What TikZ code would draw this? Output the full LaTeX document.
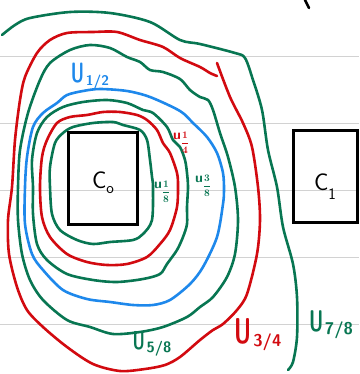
\documentclass[tikz,border=0pt]{standalone}
\usepackage{graphicx}
\usepackage{amsmath}
\definecolor{cgreen}{RGB}{8,118,82}
\definecolor{cred}{RGB}{210,10,16}
\definecolor{cblue}{RGB}{30,136,235}
\newcommand{\ulab}[3]{\scalebox{0.62}[1]{\fontsize{#1}{#1}\selectfont U}\,\raisebox{-3pt}{\fontsize{#2}{#2}\selectfont #3}}
\newcommand{\slab}[2]{{\fontsize{14}{14}\selectfont u}\raisebox{-7pt}{\fontsize{10}{10}\selectfont$\boldsymbol{\dfrac{#1}{#2}}$}}
\begin{document}
\begin{tikzpicture}[x=1pt,y=-1pt,
  curve/.style={line width=2.6pt,line cap=round,line join=round},
  gline/.style={gray!35,line width=1pt},
  boxnode/.style={draw=black,line width=3pt,inner sep=0pt},
  lab/.style={inner sep=0pt,font=\sffamily\bfseries}]
\useasboundingbox (0,0) rectangle (359,374);
% ruled lines
\foreach \yy in {57,124,190,257,324} \draw[gline] (0,\yy) -- (359,\yy);
% U 7/8 (outer green, open)
\draw[curve,cgreen] plot[smooth] coordinates {(2,35) (15,25) (30,18) (70,12) (110,13) (150,22) (180,40) (200,44) (235,53) (245,58) (253,80) (262,110) (268,150) (277,187) (283,227) (293,264) (297,297) (297,337) (293,362) (288,370)};
% U 3/4 (outer red, open)
\draw[curve,cred] plot[smooth] coordinates {(217,76) (210,73) (200,67) (180,58) (163,47) (140,40) (117,32) (93,32) (67,33) (50,40) (37,53) (25,77) (20,100) (15,140) (12,187) (8,220) (9,254) (17,287) (27,310) (43,327) (67,347) (93,364) (120,371) (145,369) (165,365) (180,357) (200,340) (213,330) (223,324) (237,310) (247,294) (257,254) (260,220) (258,187) (252,147) (243,123) (230,97) (217,63)};
% U 5/8
\draw[curve,cgreen] plot[smooth cycle] coordinates {(18,187) (20,150) (28,113) (40,80) (50,63) (70,50) (90,45) (110,48) (127,57) (140,62) (150,70) (163,72) (180,79) (190,90) (200,97) (208,100) (213,110) (220,133) (228,157) (235,187) (238,220) (235,254) (227,277) (213,297) (200,307) (187,317) (163,327) (140,332) (113,334) (90,327) (67,320) (43,300) (30,280) (22,254) (18,220)};
% U 1/2
\draw[curve,cblue] plot[smooth cycle] coordinates {(25,187) (27,157) (33,127) (43,113) (57,103) (67,95) (83,91) (100,89) (127,91) (150,97) (180,111) (193,123) (207,137) (217,153) (223,173) (224,190) (223,204) (217,237) (203,267) (190,284) (170,300) (153,305) (133,305) (110,302) (87,299) (63,290) (43,270) (32,254) (25,224)};
% U 3/8
\draw[curve,cgreen] plot[smooth cycle] coordinates {(33,187) (32,160) (37,133) (47,117) (63,107) (83,102) (107,100) (127,103) (143,110) (153,113) (167,127) (173,140) (180,147) (185,160) (187,173) (188,187) (187,207) (187,224) (183,237) (177,250) (167,264) (160,274) (143,279) (117,282) (93,280) (67,274) (47,260) (37,244) (33,214)};
% U 1/4
\draw[curve,cred] plot[smooth cycle] coordinates {(40,187) (42,157) (47,140) (57,123) (70,117) (87,115) (103,112) (120,112) (137,115) (147,120) (157,130) (163,143) (170,153) (177,173) (178,187) (177,207) (170,230) (160,244) (147,257) (127,264) (107,265) (87,262) (67,254) (50,237) (42,217)};
% U 1/8
\draw[curve,cgreen] plot[smooth cycle] coordinates {(50,187) (50,167) (55,143) (63,133) (73,127) (93,123) (113,122) (123,125) (140,130) (147,140) (150,160) (152,177) (153,187) (152,220) (143,234) (133,240) (110,242) (93,244) (77,240) (60,230) (52,214)};
% boxes
\node[boxnode,minimum width=69pt,minimum height=91pt] (c0) at (102.5,178.5) {};
\node[boxnode,minimum width=64pt,minimum height=91pt] (c1) at (325,176.5) {};
\node[lab,font=\sffamily] (c0t) at (103,183) {{\fontsize{24}{24}\selectfont C}\raisebox{-5pt}{\fontsize{16}{16}\selectfont o}};
\node[lab,font=\sffamily] (c1t) at (325,187) {{\fontsize{24}{24}\selectfont C}\raisebox{-9pt}{\fontsize{16}{16}\selectfont 1}};
% labels
\node[lab,text=cblue] (l12) at (90,76) {\ulab{28}{14}{1/2}};
\node[lab,text=cgreen] (l58) at (152,344) {\ulab{26}{15}{5/8}};
\node[lab,text=cred] (l34) at (258,335) {\ulab{36}{17}{3/4}};
\node[lab,text=cgreen] (l78) at (331,325) {\ulab{30}{17}{7/8}};
\node[lab,text=cred] (l14) at (181,143) {\slab{1}{4}};
\node[lab,text=cgreen] (l18) at (162,192) {\slab{1}{8}};
\node[lab,text=cgreen] (l38) at (203,186) {\slab{3}{8}};
% stray mark
\draw[curve,black] (305,0) -- (309,8);
\end{tikzpicture}
\end{document}
